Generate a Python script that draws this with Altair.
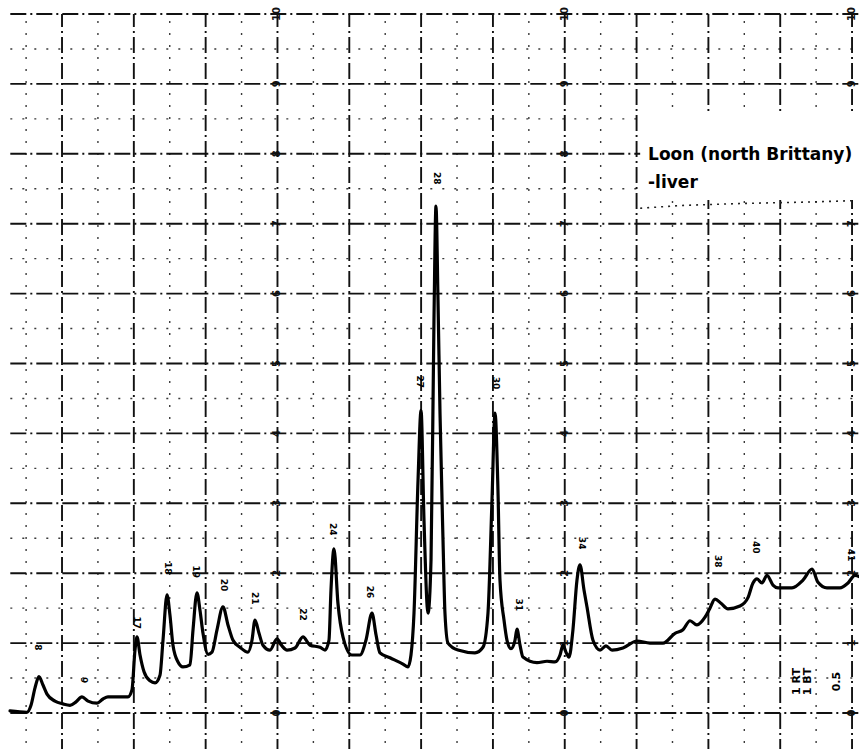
import altair as alt
import pandas as pd

# ---- data (time in grid units, response in chart divisions) ----
trace_t = [0.276, 0.512, 0.568, 0.624, 0.679, 0.735, 0.791, 0.902, 1.014, 1.111,
           1.195, 1.278, 1.362, 1.487, 1.571, 1.640, 1.919, 1.974, 2.016, 2.044,
           2.086, 2.142, 2.225, 2.295, 2.364, 2.406, 2.462, 2.503, 2.545, 2.615,
           2.684, 2.782, 2.824, 2.879, 2.921, 2.963, 3.033, 3.088, 3.158, 3.241,
           3.311, 3.381, 3.478, 3.589, 3.645, 3.687, 3.743, 3.798, 3.896, 3.993,
           4.063, 4.133, 4.244, 4.355, 4.453, 4.592, 4.662, 4.717, 4.745, 4.787,
           4.842, 4.912, 5.037, 5.149, 5.232, 5.316, 5.372, 5.427, 5.567, 5.748,
           5.817, 5.859, 5.901, 5.957, 5.999, 6.040, 6.096, 6.138, 6.179, 6.207,
           6.235, 6.263, 6.305, 6.332, 6.374, 6.513, 6.750, 6.861, 6.931, 6.987,
           7.029, 7.070, 7.098, 7.154, 7.196, 7.251, 7.307, 7.335, 7.377, 7.418,
           7.613, 7.753, 7.864, 7.934, 7.975, 8.017, 8.059, 8.114, 8.170, 8.212,
           8.268, 8.309, 8.393, 8.491, 8.574, 8.658, 8.811, 9.006, 9.187, 9.368,
           9.535, 9.646, 9.744, 9.841, 9.953, 10.022, 10.092, 10.175, 10.273, 10.440,
           10.551, 10.621, 10.677, 10.746, 10.816, 10.899, 10.969, 11.164, 11.317, 11.443,
           11.526, 11.651, 11.832, 11.944, 12.041, 12.138]
trace_v = [0.03, 0.01, 0.11, 0.36, 0.52, 0.40, 0.27, 0.17, 0.13, 0.11,
           0.16, 0.23, 0.17, 0.14, 0.20, 0.23, 0.23, 0.33, 0.90, 1.09,
           0.83, 0.59, 0.46, 0.43, 0.54, 1.04, 1.69, 1.40, 0.97, 0.73,
           0.66, 0.69, 1.19, 1.72, 1.47, 1.14, 0.84, 0.87, 1.19, 1.52,
           1.26, 1.04, 0.94, 0.87, 1.04, 1.33, 1.14, 0.97, 0.90, 1.06,
           0.96, 0.90, 0.93, 1.09, 0.97, 0.94, 0.90, 1.04, 1.76, 2.35,
           1.57, 1.09, 0.83, 0.83, 1.04, 1.43, 1.12, 0.86, 0.79, 0.70,
           0.66, 0.83, 1.43, 3.33, 4.33, 2.76, 1.43, 2.19, 5.62, 7.25,
           5.91, 4.29, 2.47, 1.43, 1.00, 0.90, 0.86, 0.94, 1.43, 3.05,
           4.29, 3.19, 1.90, 1.33, 1.04, 0.92, 1.04, 1.20, 0.97, 0.80,
           0.72, 0.74, 0.73, 0.83, 0.97, 0.87, 0.80, 1.19, 1.90, 2.12,
           1.76, 1.52, 1.04, 0.90, 0.96, 0.90, 0.93, 1.03, 1.00, 1.00,
           1.14, 1.19, 1.32, 1.26, 1.37, 1.50, 1.63, 1.57, 1.49, 1.53,
           1.65, 1.86, 1.92, 1.86, 1.97, 1.83, 1.79, 1.79, 1.90, 2.06,
           1.87, 1.79, 1.79, 1.86, 1.97, 1.93]

# grid of the recorder chart paper
major_t = [1, 2, 3, 4, 5, 6, 7, 8, 9, 10, 11, 12]
minor_t = [0.5, 1.5, 2.5, 3.5, 4.5, 5.5, 6.5, 7.5, 8.5, 9.5, 10.5, 11.5]
major_v = [0, 1, 2, 3, 4, 5, 6, 7, 8, 9, 10]
minor_v = [0.5, 1.5, 2.5, 3.5, 4.5, 5.5, 6.5, 7.5, 8.5, 9.5]
scale_cols = [4, 8, 12]
scale_text = ["0", "1", "2", "3", "4", "5", "6", "7", "8", "9", "10"]

# hand-written peak marks (approximate readings)
peak_t = [0.66, 1.30, 2.04, 2.48, 2.86, 3.26, 3.69, 4.36, 4.77, 5.29, 5.98, 6.22, 7.04, 7.36, 8.24, 10.13, 10.66, 11.99]
peak_v = [0.94, 0.47, 1.29, 2.07, 2.02, 1.83, 1.64, 1.41, 2.63, 1.73, 4.74, 7.65, 4.72, 1.55, 2.43, 2.17, 2.37, 2.26]
peak_txt = ["8", "9", "17", "18", "19", "20", "21", "22", "24", "26", "27", "28", "30", "31", "34", "38", "40", "41"]

legend_lines = ["Loon (north Brittany)", "-liver"]
legend_t = [9.16, 9.16]
legend_v = [7.91, 7.51]
legend_box_t = [9.05, 12.2]
legend_box_v = [7.34, 8.6]
dotted_t = [9.05, 9.60, 10.5, 11.4, 12.04]
dotted_v = [7.22, 7.26, 7.29, 7.31, 7.33]

note_txt = ["1 RT", "1 BT", "0.5"]
note_t = [11.24, 11.39, 11.79]
note_v = [0.45, 0.45, 0.45]

# ---- chart ----
XD = [0.1365, 12.097]
YD = [-0.515, 10.2]
xs = alt.Scale(domain=XD, nice=False, zero=False)
ys = alt.Scale(domain=YD, nice=False, zero=False)
X_LO, X_HI = 0.28, 12.2
Y_LO, Y_HI = -0.6, 10.0

def enc_xy(chart):
    return chart.encode(
        x=alt.X("t:Q", scale=xs, axis=None),
        y=alt.Y("v:Q", scale=ys, axis=None),
    )

def hrules(vals, dash, width, color):
    df = pd.DataFrame({"v": vals, "a": X_LO, "b": X_HI})
    return alt.Chart(df).mark_rule(strokeDash=dash, strokeWidth=width, color=color).encode(
        y=alt.Y("v:Q", scale=ys, axis=None),
        x=alt.X("a:Q", scale=xs, axis=None),
        x2="b:Q",
    )

def vrules(vals, dash, width, color):
    df = pd.DataFrame({"t": vals, "a": Y_LO, "b": Y_HI})
    return alt.Chart(df).mark_rule(strokeDash=dash, strokeWidth=width, color=color).encode(
        x=alt.X("t:Q", scale=xs, axis=None),
        y=alt.Y("a:Q", scale=ys, axis=None),
        y2="b:Q",
    )

minor_h = hrules(minor_v, [2, 10], 1.4, "#3a3a3a")
minor_vr = vrules(minor_t, [2, 10], 1.4, "#3a3a3a")
major_h = hrules(major_v, [16, 4, 2, 4], 1.9, "#111111")
major_vr = vrules(major_t, [16, 4, 2, 4], 1.9, "#111111")

scale_df = pd.DataFrame(
    [{"t": c, "v": v, "s": s} for c in scale_cols for v, s in zip(major_v, scale_text)]
)
scale_lbl = enc_xy(alt.Chart(scale_df).mark_text(
    angle=270, fontSize=10, fontWeight="bold", font="DejaVu Sans", color="#111111"
)).encode(text="s:N")

box_df = pd.DataFrame({"t": [legend_box_t[0]], "t2": [legend_box_t[1]],
                       "v": [legend_box_v[0]], "v2": [legend_box_v[1]]})
legend_box = alt.Chart(box_df).mark_rect(color="white").encode(
    x=alt.X("t:Q", scale=xs, axis=None), x2="t2:Q",
    y=alt.Y("v:Q", scale=ys, axis=None), y2="v2:Q",
)

trace_df = pd.DataFrame({"t": trace_t, "v": trace_v})
trace = enc_xy(alt.Chart(trace_df).mark_line(
    color="#000000", strokeWidth=3.2, interpolate="monotone", strokeJoin="round", strokeCap="round"
))

peak_df = pd.DataFrame({"t": peak_t, "v": peak_v, "s": peak_txt})
peaks = enc_xy(alt.Chart(peak_df).mark_text(
    angle=90, fontSize=9, fontWeight="bold", font="DejaVu Sans", color="#000000"
)).encode(text="s:N")

leg_df = pd.DataFrame({"t": legend_t, "v": legend_v, "s": legend_lines})
legend = enc_xy(alt.Chart(leg_df).mark_text(
    align="left", baseline="alphabetic", fontSize=17, fontWeight="bold",
    font="DejaVu Sans", color="#000000"
)).encode(text="s:N")

dot_df = pd.DataFrame({"t": dotted_t, "v": dotted_v})
dotted = enc_xy(alt.Chart(dot_df).mark_line(color="#222222", strokeWidth=1.6, strokeDash=[2, 5]))

note_df = pd.DataFrame({"t": note_t, "v": note_v, "s": note_txt})
notes = enc_xy(alt.Chart(note_df).mark_text(
    angle=270, fontSize=11, fontWeight="bold", font="DejaVu Sans", color="#000000"
)).encode(text="s:N")

chart = alt.layer(
    minor_h, minor_vr, major_h, major_vr, scale_lbl, legend_box, dotted, trace, peaks, legend, notes
).properties(
    width=859, height=749, autosize=alt.AutoSizeParams(type="none"), padding=0,
    background="white"
).configure_view(stroke=None)

chart.save("out.html", embed_options={"renderer": "svg", "actions": False})
